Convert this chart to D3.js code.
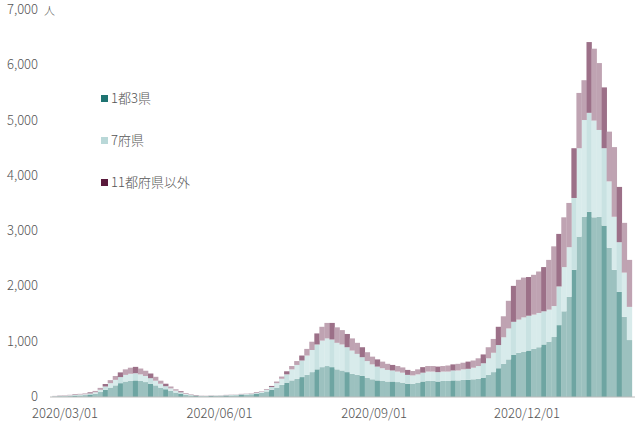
<!DOCTYPE html>
<html>
<head>
<meta charset="utf-8">
<script src="https://cdn.jsdelivr.net/npm/d3@7"></script>
<style>
  body { margin: 0; background: #fff; }
  text { font-family: "Noto Sans CJK JP", "Liberation Sans", sans-serif; fill: #555; font-weight: 300; }
</style>
</head>
<body>
<svg width="640" height="423"></svg>
<script>
// 3-day steps starting 2020/02/24
const startDate = new Date(2020, 1, 24);
const stepDays = 3;

const seriesNames = ['1都3県', '7府県', '11都府県以外'];

const tokyoArea = [10,12,15,20,25,30, 35,45,60,90,130, 170,210,250,280,290,300,
  290,270,240,210,170,140, 110,80,60,40,30,20, 15,15,18,20,22,25, 30,32,40,45,50,60,
  75,100,130,170,220,260, 300,330,360,400,450,500, 540,560,540,500,480,450,
  420,400,380,350,320,300, 290,280,280,270,260,240, 240,260,280,290,290,280,
  290,290,300,300,310,310, 320,330,350,400,450,520, 600,680,760,800,820,840,
  870,900,950,1000,1085, 1300,1550,1810,2300,2900, 3260,3350,3250,3260,3100,2700,2300,1900,1450,1030];
const sevenPref = [5,8,10,10,12,15, 15,20,25,40,60, 80,100,110,120,130,130,
  120,110,100,85,70,55, 45,35,25,18,12,8, 6,5,5,6,6,8, 8,8,10,10,12,15,
  20,30,50,80,110,150, 200,250,300,350,400,450, 480,500,500,480,470,450,
  420,380,340,300,270,250, 230,210,200,190,180,160, 150,150,160,170,170,170,
  170,170,180,180,190,200, 210,230,260,300,350,420, 480,560,600,600,620,630,
  620,620,600,580,560, 700,800,900,1300,1600, 1750,1790,1750,1570,1400,1200,960,900,800,600];
const others = [5,5,8,10,10,12, 15,20,25,35,45, 55,70,85,100,110,115,
  105,95,85,70,55,45, 35,25,20,14,10,8, 5,4,4,4,5,5, 5,5,6,6,8,10,
  10,15,20,30,40,55, 60,70,90,120,150,200, 250,280,300,280,260,240,
  220,200,180,160,140,130, 120,110,100,100,95,90, 80,90,100,100,100,100,
  100,110,110,120,120,130, 130,140,160,200,250,330, 380,500,650,720,720,700,
  720,750,800,900,1080, 950,900,800,900,1000, 720,1280,1300,1210,1100,900,1260,1000,900,850];

const yTicks = [0,1000,2000,3000,4000,5000,6000,7000];
const xTickDates = ['2020/03/01','2020/06/01','2020/09/01','2020/12/01'];

const rows = tokyoArea.map((v, i) => {
  const d = new Date(startDate);
  d.setDate(d.getDate() + i * stepDays);
  return { date: d, a: v, b: sevenPref[i], c: others[i] };
});

const svg = d3.select('svg');
const x = d3.scaleTime()
  .domain([new Date(2020, 2, 1), new Date(2020, 11, 1)])
  .range([65, 527]);
const y = d3.scaleLinear().domain([0, 7000]).range([397, 10]);
const barW = x(new Date(2020, 0, 4)) - x(new Date(2020, 0, 1)) + 0.3;

const stack = d3.stack().keys(['a', 'b', 'c'])(rows);
const fills = [['#9cc1bf', '#6ea5a2'], ['#d8ebeb', '#c9e2e2'], ['#bfa3b2', '#9c7088']];

svg.selectAll('g.layer')
  .data(stack)
  .join('g')
  .attr('class', 'layer')
  .selectAll('rect')
  .data((d, k) => d.map((p, i) => ({ p, k, i })))
  .join('rect')
  .attr('x', d => x(d.p.data.date) - barW / 2)
  .attr('width', barW)
  .attr('y', d => y(d.p[1]))
  .attr('height', d => y(d.p[0]) - y(d.p[1]))
  .attr('fill', d => fills[d.k][(d.i % 3 === 1) ? 1 : 0]);

// baseline
svg.append('line')
  .attr('x1', 50).attr('x2', 635)
  .attr('y1', y(0)).attr('y2', y(0))
  .attr('stroke', '#bbb');

// y axis labels
svg.selectAll('text.ytick')
  .data(yTicks)
  .join('text')
  .attr('class', 'ytick')
  .attr('x', 38)
  .attr('y', d => y(d) + 4)
  .attr('text-anchor', 'end')
  .attr('font-size', 13)
  .text(d => d3.format(',')(d));

svg.append('text').attr('x', 44).attr('y', 15).attr('font-size', 11).text('人');

// x axis labels
const parse = d3.timeParse('%Y/%m/%d');
svg.selectAll('text.xtick')
  .data(xTickDates)
  .join('text')
  .attr('class', 'xtick')
  .attr('x', d => x(parse(d)))
  .attr('y', 418)
  .attr('text-anchor', 'middle')
  .attr('font-size', 13)
  .text(d => d);

// legend
const legendColors = ['#1f7472', '#b9d8d8', '#5a1a3c'];
const lg = svg.selectAll('g.legend')
  .data(seriesNames)
  .join('g')
  .attr('class', 'legend')
  .attr('transform', (d, i) => `translate(101, ${99 + i * 42})`);
lg.append('rect').attr('x', 0).attr('y', -4).attr('width', 7).attr('height', 7)
  .attr('fill', (d, i) => legendColors[i]);
lg.append('text').attr('x', 10).attr('y', 4).attr('font-size', 13).text(d => d);
</script>
</body>
</html>
